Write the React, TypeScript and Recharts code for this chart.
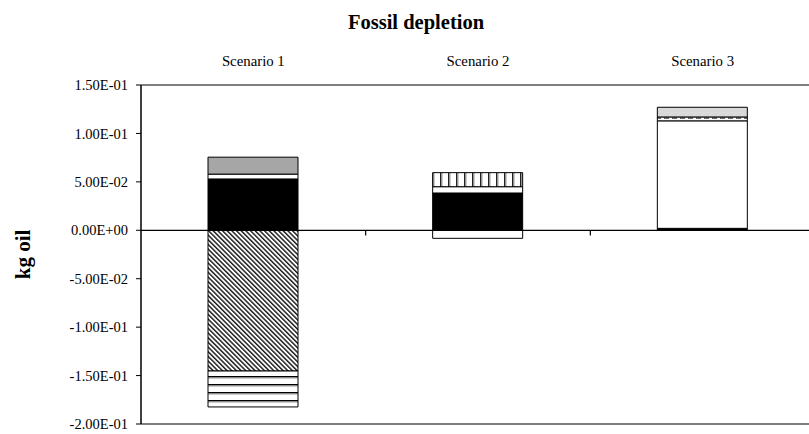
import React from 'react';
import { BarChart, Bar, XAxis, YAxis, ReferenceLine, Label } from 'recharts';

const categories = ['Scenario 1', 'Scenario 2', 'Scenario 3'];
const blackVals = [0.053, 0.0385, 0.002];
const whiteVals = [0.005, 0.0065, 0.111];
const vstripeVals = [0, 0.0145, 0];
const dashedVals = [0, 0, 0.004];
const grayVals = [0.0175, 0, 0];
const lightGrayVals = [0, 0, 0.01];
const hatchVals = [-0.1453, 0, 0];
const hstripeVals = [-0.0371, 0, 0];
const whiteNegVals = [0, -0.0083, 0];
const yTicks = [0.15, 0.1, 0.05, 0, -0.05, -0.1, -0.15, -0.2];
const boundaries = [0.5, 1.5];

const data = categories.map((name, i) => ({
  name,
  idx: i,
  black: blackVals[i],
  white: whiteVals[i],
  vstripe: vstripeVals[i],
  dashed: dashedVals[i],
  gray: grayVals[i],
  lightGray: lightGrayVals[i],
  hatch: hatchVals[i],
  hstripe: hstripeVals[i],
  whiteNeg: whiteNegVals[i],
}));

const FONT = '"Liberation Serif", "Times New Roman", serif';

const fmt = (v: number) => {
  if (v === 0) return '0.00E+00';
  const exp = Math.floor(Math.log10(Math.abs(v)) + 1e-9);
  const mant = v / Math.pow(10, exp);
  const sign = exp < 0 ? '-' : '+';
  const e = String(Math.abs(exp)).padStart(2, '0');
  return `${mant.toFixed(2)}E${sign}${e}`;
};

export default function App() {
  return (
    <div style={{ position: 'absolute', left: 0, top: 0, width: 809, height: 434, overflow: 'hidden', background: '#fff' }}>
      <div style={{ position: 'absolute', left: 0, top: 9, width: 832, textAlign: 'center', fontFamily: FONT, fontWeight: 'bold', fontSize: 20.5, lineHeight: '26px', color: '#000' }}>
        Fossil depletion
      </div>
      <BarChart
        width={815}
        height={434}
        data={data}
        stackOffset="sign"
        margin={{ top: 55, right: 0, bottom: 10, left: 0 }}
        barSize={90}
      >
        <defs>
          <pattern id="hatch" patternUnits="userSpaceOnUse" width="3.3" height="3.3" patternTransform="rotate(-45)">
            <rect width="3.3" height="3.3" fill="#fff" />
            <rect x="0" y="0" width="1.5" height="3.3" fill="#222" />
          </pattern>
          <pattern id="hstripe" patternUnits="userSpaceOnUse" width="8" height="8">
            <rect width="8" height="8" fill="#fff" />
            <rect x="0" y="0" width="8" height="1.5" fill="#000" />
            <rect x="0" y="1.5" width="8" height="1" fill="#999" />
          </pattern>
          <pattern id="vstripe" patternUnits="userSpaceOnUse" width="8" height="8">
            <rect width="8" height="8" fill="#fff" />
            <rect x="0" y="0" width="1.5" height="8" fill="#222" />
            <rect x="1.5" y="0" width="1" height="8" fill="#999" />
          </pattern>
          <pattern id="dashed" patternUnits="userSpaceOnUse" width="8" height="4">
            <rect width="8" height="4" fill="#fff" />
            <rect x="0" y="1.5" width="5" height="1.2" fill="#333" />
          </pattern>
        </defs>
        <XAxis
          dataKey="name"
          orientation="top"
          height={30}
          tickLine={false}
          axisLine={{ stroke: '#000', strokeWidth: 1 }}
          tickMargin={13}
          tick={{ fill: '#000', fontSize: 14.8, fontFamily: FONT }}
          interval={0}
        />
        <XAxis xAxisId="n" dataKey="idx" type="number" domain={[-0.5, 2.5]} allowDataOverflow hide height={0} />
        <YAxis
          width={141}
          domain={[-0.2, 0.15]}
          ticks={yTicks}
          interval={0}
          tickFormatter={fmt}
          tickSize={5}
          tickMargin={8}
          tickLine={{ stroke: '#000' }}
          axisLine={{ stroke: '#000', strokeWidth: 1.5 }}
          tick={{ fill: '#000', fontSize: 14.5, fontFamily: FONT }}
        >
          <Label
            content={(props: any) => {
              const vb = props.viewBox || { x: 0, y: 85, width: 141, height: 339 };
              const cx = 23;
              const cy = vb.y + vb.height / 2;
              return (
                <text
                  x={cx}
                  y={cy}
                  transform={`rotate(-90, ${cx}, ${cy})`}
                  textAnchor="middle"
                  dominantBaseline="central"
                  fontFamily={FONT}
                  fontWeight="bold"
                  fontSize={21}
                  fill="#000"
                >
                  kg oil
                </text>
              );
            }}
          />
        </YAxis>
        <ReferenceLine y={0} stroke="#000" strokeWidth={1.2} />
        <ReferenceLine y={-0.2} stroke="#000" strokeWidth={1.2} />
        {boundaries.map((b) => (
          <ReferenceLine
            key={b}
            xAxisId="n"
            segment={[{ x: b, y: 0 }, { x: b, y: -0.0055 }]}
            stroke="#000"
            strokeWidth={1.2}
          />
        ))}
        <Bar dataKey="black" stackId="a" fill="#000" stroke="#000" strokeWidth={1} isAnimationActive={false} />
        <Bar dataKey="white" stackId="a" fill="#fff" stroke="#000" strokeWidth={1} isAnimationActive={false} />
        <Bar dataKey="vstripe" stackId="a" fill="url(#vstripe)" stroke="#000" strokeWidth={1} isAnimationActive={false} />
        <Bar dataKey="dashed" stackId="a" fill="url(#dashed)" stroke="#000" strokeWidth={1} isAnimationActive={false} />
        <Bar dataKey="gray" stackId="a" fill="#a6a6a6" stroke="#000" strokeWidth={1} isAnimationActive={false} />
        <Bar dataKey="lightGray" stackId="a" fill="#d9d9d9" stroke="#000" strokeWidth={1} isAnimationActive={false} />
        <Bar dataKey="hatch" stackId="a" fill="url(#hatch)" stroke="#000" strokeWidth={1} isAnimationActive={false} />
        <Bar dataKey="hstripe" stackId="a" fill="url(#hstripe)" stroke="#000" strokeWidth={1} isAnimationActive={false} />
        <Bar dataKey="whiteNeg" stackId="a" fill="#fff" stroke="#000" strokeWidth={1} isAnimationActive={false} />
      </BarChart>
    </div>
  );
}
